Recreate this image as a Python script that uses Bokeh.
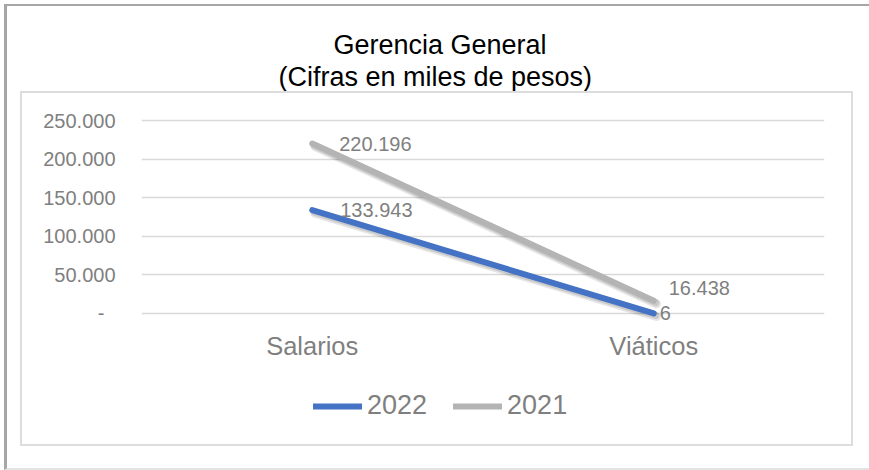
from bokeh.plotting import figure
from bokeh.models import (FactorRange, Range1d, FixedTicker, ColumnDataSource, LabelSet,
                          Legend, LegendItem, Title, InlineStyleSheet)
from bokeh.core.properties import value
from bokeh.transform import dodge
from bokeh.embed import file_html
from bokeh.resources import INLINE

# ---- data ----
categories = ["Salarios", "Viáticos"]
series_names = ["2022", "2021"]
values_2022 = [133943, 6]
values_2021 = [220196, 16438]
labels_2022 = ["133.943", "6"]
labels_2021 = ["220.196", "16.438"]
y_ticks = [0, 50000, 100000, 150000, 200000, 250000]
y_tick_labels = ["-\u00a0\u00a0", "50.000", "100.000", "150.000", "200.000", "250.000"]
title_lines = ["Gerencia General", "(Cifras en miles de pesos)"]

# ---- styling ----
FONT = "Liberation Sans"
BLUE = "#4472C4"
GRAY = "#B4B4B4"
TXT = "#7F7F7F"
GRID = "#D9D9D9"

# label offsets (pixels) for each point
dx_2022, dy_2022 = [28, 6], [0, 0]
dx_2021, dy_2021 = [27, 15], [0, 13]

# y range: zero sits ~127 px above the frame bottom so the legend fits inside the frame
W, H = 869, 470
p = figure(width=W, height=H, title=None,
           x_range=FactorRange(factors=categories, range_padding=0),
           y_range=Range1d(-164543, 287573),
           output_backend="svg", toolbar_location=None,
           min_border_left=141, min_border_right=45,
           min_border_top=91, min_border_bottom=30)
p.outline_line_color = None
p.background_fill_color = "white"
p.border_fill_color = "white"

# axes
p.yaxis.ticker = FixedTicker(ticks=y_ticks)
p.yaxis.major_label_overrides = {t: l for t, l in zip(y_ticks, y_tick_labels)}
p.yaxis.axis_line_color = None
p.yaxis.major_tick_line_color = None
p.yaxis.minor_tick_line_color = None
p.yaxis.major_tick_out = 0
p.yaxis.major_label_standoff = 26
p.yaxis.major_label_text_font = FONT
p.yaxis.major_label_text_font_size = "20px"
p.yaxis.major_label_text_color = TXT

p.xaxis.axis_line_color = None
p.xaxis.major_tick_line_color = None
p.xaxis.major_tick_out = 0
p.xaxis.major_label_standoff = -109
p.xaxis.major_label_text_font = FONT
p.xaxis.major_label_text_font_size = "25.5px"
p.xaxis.major_label_text_color = TXT

p.xgrid.grid_line_color = None
p.ygrid.ticker = FixedTicker(ticks=y_ticks)
p.ygrid.grid_line_color = GRID
p.ygrid.grid_line_width = 1.5

# sources
src22 = ColumnDataSource(dict(cat=categories, val=values_2022, lab=labels_2022, dx=dx_2022, dy=dy_2022))
src21 = ColumnDataSource(dict(cat=categories, val=values_2021, lab=labels_2021, dx=dx_2021, dy=dy_2021))

# soft shadows under the lines
for src in (src22, src21):
    p.line(x=dodge("cat", 0.008, range=p.x_range), y=dodge("val", -3900), source=src,
           line_width=9, line_color="black", line_alpha=0.10, line_cap="round", line_join="round")
    p.line(x=dodge("cat", 0.006, range=p.x_range), y=dodge("val", -2600), source=src,
           line_width=7, line_color="black", line_alpha=0.12, line_cap="round", line_join="round")

r22 = p.line("cat", "val", source=src22, line_width=6, line_color=BLUE,
             line_cap="round", line_join="round")
r21 = p.line("cat", "val", source=src21, line_width=6, line_color=GRAY,
             line_cap="round", line_join="round")

for src in (src22, src21):
    p.add_layout(LabelSet(x="cat", y="val", text="lab", source=src, x_offset="dx", y_offset="dy",
                          text_align="left", text_baseline="middle", text_font=value(FONT),
                          text_font_size=value("20px"), text_color=TXT))

legend = Legend(items=[LegendItem(label=series_names[0], renderers=[r22]),
                       LegendItem(label=series_names[1], renderers=[r21])],
                orientation="horizontal", location=(172, 19),
                glyph_width=49, glyph_height=30, label_height=30, label_standoff=5,
                spacing=26, padding=0, margin=0, border_line_color=None,
                background_fill_alpha=0, label_text_font=FONT,
                label_text_font_size="27px", label_text_color=TXT)
p.add_layout(legend)

# titles (second line is nearest the frame)
t2 = Title(text=title_lines[1], align="left", offset=137, standoff=0,
           text_font=FONT, text_font_size="27px", text_font_style="normal", text_color="black")
p.add_layout(t2, "above")
t1 = Title(text=title_lines[0], align="left", offset=192, standoff=0,
           text_font=FONT, text_font_size="27px", text_font_style="normal", text_color="black")
p.add_layout(t1, "above")

# outer border and chart-area box (decoration only)
p.stylesheets = [InlineStyleSheet(css="""
:host::before { content: ""; position: absolute; left: 4px; top: 4px; width: 865px; height: 466px;
  box-sizing: border-box; border-left: 3px solid #A6A6A6; border-top: 2px solid #A6A6A6;
  border-bottom: 2px solid #E3E3E3; pointer-events: none; z-index: 10; }
:host::after { content: ""; position: absolute; left: 20px; top: 91px; width: 833px; height: 355px;
  box-sizing: border-box; border: 2px solid #DDDDDD; pointer-events: none; z-index: 10; }
""")]

open("out.html", "w").write(file_html(p, INLINE))
